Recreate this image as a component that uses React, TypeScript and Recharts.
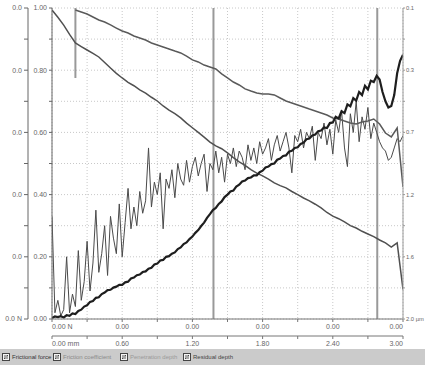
import { LineChart, Line, XAxis, YAxis, CartesianGrid, ReferenceLine } from "recharts";

// scratch track position (mm) and axis tick values
const distanceTicks = [0, 0.3, 0.6, 0.9, 1.2, 1.5, 1.8, 2.1, 2.4, 2.7, 3.0];
const distanceLabels = ["0.00 mm", "0.60", "1.20", "1.80", "2.40", "3.00"];
const loadLabels = ["0.00 N", "0.00", "0.00", "0.00", "0.00", "0.00"];
const coefTicks = [0, 0.1, 0.2, 0.3, 0.4, 0.5, 0.6, 0.7, 0.8, 0.9, 1.0];
const coefLabels = ["0.00", "0.20", "0.40", "0.60", "0.80", "1.00"];
const forceLabels = ["0.0 N", "0.0", "0.0", "0.0", "0.0", "0.0"];
const depthTicks = [0, 0.2, 0.4, 0.6, 0.8, 1.0, 1.2, 1.4, 1.6, 1.8, 2.0];
const depthLabels = ["0.1", "0.3", "0.7", "1.2", "1.6", "2.0 µm"];

// event markers along the track (mm)
const markers = [1.38, 2.78];
const shortMarker = { mm: 0.2, from: 1.0, to: 0.775 };

// sampled every 0.025 mm from 0
const frictionalForce = [
  0.003, 0.008, 0.006, 0.009, 0.005, 0.012, 0.01, 0.018, 0.016, 0.026,
  0.03, 0.04, 0.044, 0.055, 0.058, 0.068, 0.07, 0.08, 0.085, 0.093,
  0.094, 0.101, 0.104, 0.11, 0.11, 0.118, 0.12, 0.13, 0.133, 0.141,
  0.143, 0.151, 0.153, 0.162, 0.165, 0.175, 0.178, 0.188, 0.19, 0.2,
  0.202, 0.21, 0.214, 0.225, 0.23, 0.241, 0.246, 0.257, 0.265, 0.277,
  0.286, 0.299, 0.31, 0.325, 0.337, 0.35, 0.357, 0.37, 0.378, 0.392,
  0.4, 0.41, 0.413, 0.426, 0.432, 0.442, 0.445, 0.453, 0.455, 0.462,
  0.462, 0.472, 0.477, 0.487, 0.49, 0.498, 0.5, 0.512, 0.516, 0.524,
  0.526, 0.538, 0.541, 0.55, 0.552, 0.563, 0.567, 0.578, 0.58, 0.59,
  0.593, 0.604, 0.606, 0.616, 0.614, 0.63, 0.632, 0.65, 0.645, 0.668,
  0.662, 0.69, 0.684, 0.71, 0.702, 0.73, 0.72, 0.75, 0.738, 0.766,
  0.762, 0.782, 0.77, 0.73, 0.7, 0.68, 0.685, 0.72, 0.79, 0.83,
  0.85,
];

// sampled every 0.025 mm from 0
const frictionCoefficient = [
  0.33, 0.02, 0.06, 0.01, 0.03, 0.2, 0.02, 0.08, 0.04, 0.22,
  0.06, 0.12, 0.25, 0.09, 0.18, 0.35, 0.15, 0.21, 0.3, 0.14,
  0.33, 0.26, 0.21, 0.37, 0.2, 0.31, 0.42, 0.29, 0.36, 0.3,
  0.41, 0.34, 0.38, 0.55, 0.36, 0.44, 0.4, 0.47, 0.29, 0.45,
  0.42, 0.48, 0.39, 0.5, 0.45, 0.43, 0.51, 0.44, 0.49, 0.52,
  0.46, 0.5, 0.53, 0.41, 0.5, 0.48, 0.54, 0.47, 0.52, 0.44,
  0.53, 0.5, 0.55, 0.49, 0.54, 0.52, 0.48, 0.56, 0.51, 0.55,
  0.5, 0.57, 0.53, 0.55, 0.58, 0.51, 0.56, 0.59, 0.54, 0.57,
  0.6, 0.55, 0.47, 0.59, 0.57, 0.61, 0.55, 0.6, 0.58, 0.62,
  0.51, 0.6, 0.58, 0.63, 0.56, 0.61, 0.53, 0.64, 0.6, 0.67,
  0.55, 0.49, 0.66, 0.6, 0.7, 0.57, 0.65, 0.61, 0.68, 0.58,
  0.63, 0.6, 0.57, 0.55, 0.54, 0.51, 0.52, 0.55, 0.58, 0.57,
  0.59,
];

// sampled every 0.05 mm from 0 (µm)
const penetrationDepth = [
  0.013, 0.06, 0.11, 0.17, 0.225, 0.248, 0.27, 0.292, 0.315, 0.35,
  0.386, 0.42, 0.45, 0.478, 0.5, 0.527, 0.547, 0.574, 0.598, 0.63,
  0.656, 0.68, 0.707, 0.74, 0.77, 0.8, 0.83, 0.862, 0.887, 0.905,
  0.932, 0.962, 0.99, 1.012, 1.04, 1.062, 1.08, 1.1, 1.125, 1.142,
  1.157, 1.18, 1.2, 1.222, 1.24, 1.262, 1.286, 1.315, 1.338, 1.355,
  1.376, 1.4, 1.415, 1.436, 1.453, 1.47, 1.492, 1.51, 1.537, 1.51, 1.81,
];

// sampled every 0.05 mm from 0.2 (µm)
const residualDepth = [
  0.013, 0.026, 0.039, 0.058, 0.077, 0.09, 0.109, 0.129, 0.148, 0.161,
  0.18, 0.193, 0.206, 0.225, 0.238, 0.251, 0.264, 0.277, 0.289, 0.309,
  0.334, 0.347, 0.367, 0.379, 0.392, 0.424, 0.45, 0.476, 0.495, 0.52,
  0.534, 0.547, 0.553, 0.553, 0.559, 0.579, 0.598, 0.611, 0.624, 0.637,
  0.65, 0.662, 0.675, 0.688, 0.707, 0.714, 0.727, 0.739, 0.746, 0.733,
  0.727, 0.714, 0.746, 0.804, 0.829, 0.772, 1.151,
];

const legendItems = [
  { name: "Frictional force", color: "#333", left: 2 },
  { name: "Friction coefficient", color: "#8a8a8a", left: 53 },
  { name: "Penetration depth", color: "#9a9a9a", left: 120 },
  { name: "Residual depth", color: "#444", left: 183 },
];

const toPoints = (values: number[], start: number, step: number) =>
  values.map((v, i) => ({ mm: +(start + i * step).toFixed(3), v }));

const FONT = "Liberation Sans, Arial, sans-serif";

// plain svg text so labels like "0.0 N" are not wrapped
const makeYTick = (labels: string[], size = 7) => (props: any) => {
  const { x, y, index, textAnchor } = props;
  const label = index % 2 === 0 ? labels[index / 2] ?? "" : "";
  return (
    <text x={x} y={y} dy="0.35em" textAnchor={textAnchor} fontSize={size} fill="#666" fontFamily={FONT}>
      {label}
    </text>
  );
};

// first label starts at the axis origin, last one ends at the axis end
const makeXTick = (labels: string[]) => (props: any) => {
  const { x, y, index } = props;
  const label = index % 2 === 0 ? labels[index / 2] ?? "" : "";
  const last = index === distanceTicks.length - 1;
  const anchor = index === 0 ? "start" : last ? "end" : "middle";
  return (
    <text x={x} y={y} dy="0.71em" textAnchor={anchor} fontSize={7} fill="#666" fontFamily={FONT}>
      {label}
    </text>
  );
};

function LegendIcon() {
  return (
    <svg width={8} height={8} style={{ display: "block" }}>
      <rect x={0.5} y={0.5} width={7} height={7} fill="#f4f4f4" stroke="#444" />
      <path d="M2 3 H6 M2 5 H6 M5 2 L6 3 M3 6 L2 5" stroke="#333" strokeWidth={0.8} fill="none" />
    </svg>
  );
}

export default function App() {
  return (
    <div
      style={{
        position: "absolute",
        left: 0,
        top: 0,
        width: 425,
        height: 365,
        background: "#fff",
        fontFamily: FONT,
      }}
    >
      <LineChart width={425} height={349} margin={{ top: 8, right: 0, bottom: 0, left: 0 }}>
        <CartesianGrid xAxisId={1} yAxisId="coef" stroke="#c8c8c8" strokeDasharray="1 2" />
        {/* normal load axis, next to the plot */}
        <XAxis
          xAxisId={0}
          type="number"
          dataKey="mm"
          domain={[0, 3]}
          allowDataOverflow
          ticks={distanceTicks}
          interval={0}
          tick={makeXTick(loadLabels)}
          tickSize={3}
          height={17}
          stroke="#777"
        />
        {/* track distance axis */}
        <XAxis
          xAxisId={1}
          type="number"
          dataKey="mm"
          domain={[0, 3]}
          allowDataOverflow
          ticks={distanceTicks}
          interval={0}
          tick={makeXTick(distanceLabels)}
          tickSize={3}
          height={13}
          stroke="#777"
        />
        <YAxis
          yAxisId="coef"
          type="number"
          domain={[0, 1]}
          allowDataOverflow
          ticks={coefTicks}
          interval={0}
          tick={makeYTick(coefLabels)}
          tickSize={3}
          width={24}
          stroke="#666"
        />
        <YAxis
          yAxisId="force"
          type="number"
          domain={[0, 1]}
          allowDataOverflow
          ticks={coefTicks}
          interval={0}
          tick={makeYTick(forceLabels)}
          tickSize={4}
          width={28}
          stroke="#666"
        />
        <YAxis
          yAxisId="depth"
          orientation="right"
          type="number"
          domain={[0, 2]}
          reversed
          allowDataOverflow
          ticks={depthTicks}
          interval={0}
          tick={makeYTick(depthLabels, 5.8)}
          tickSize={2}
          tickMargin={1}
          width={22}
          stroke="#999"
        />
        <ReferenceLine
          xAxisId={1}
          yAxisId="coef"
          segment={[
            { x: shortMarker.mm, y: shortMarker.from },
            { x: shortMarker.mm, y: shortMarker.to },
          ]}
          stroke="#999"
          strokeWidth={2}
        />
        {markers.map((m) => (
          <ReferenceLine key={m} xAxisId={1} yAxisId="coef" x={m} stroke="#999" strokeWidth={2} />
        ))}
        <Line
          xAxisId={1}
          yAxisId="coef"
          data={toPoints(frictionCoefficient, 0, 0.025)}
          dataKey="v"
          stroke="#4a4a4a"
          strokeWidth={1}
          dot={false}
          isAnimationActive={false}
        />
        <Line
          xAxisId={1}
          yAxisId="depth"
          data={toPoints(penetrationDepth, 0, 0.05)}
          dataKey="v"
          stroke="#505050"
          strokeWidth={1.5}
          dot={false}
          isAnimationActive={false}
        />
        <Line
          xAxisId={1}
          yAxisId="depth"
          data={toPoints(residualDepth, 0.2, 0.05)}
          dataKey="v"
          stroke="#5a5a5a"
          strokeWidth={1.5}
          dot={false}
          isAnimationActive={false}
        />
        <Line
          xAxisId={1}
          yAxisId="force"
          data={toPoints(frictionalForce, 0, 0.025)}
          dataKey="v"
          stroke="#1e1e1e"
          strokeWidth={2.2}
          dot={false}
          isAnimationActive={false}
        />
      </LineChart>
      <div
        style={{
          position: "absolute",
          left: 0,
          top: 349,
          width: 425,
          height: 16,
          background: "#cbcbcb",
        }}
      >
        {legendItems.map((item) => (
          <div
            key={item.name}
            style={{
              position: "absolute",
              left: item.left,
              top: 4,
              display: "flex",
              alignItems: "center",
              gap: 2,
              fontSize: 6,
              lineHeight: "8px",
              color: item.color,
              whiteSpace: "nowrap",
            }}
          >
            <LegendIcon />
            <span>{item.name}</span>
          </div>
        ))}
      </div>
    </div>
  );
}
